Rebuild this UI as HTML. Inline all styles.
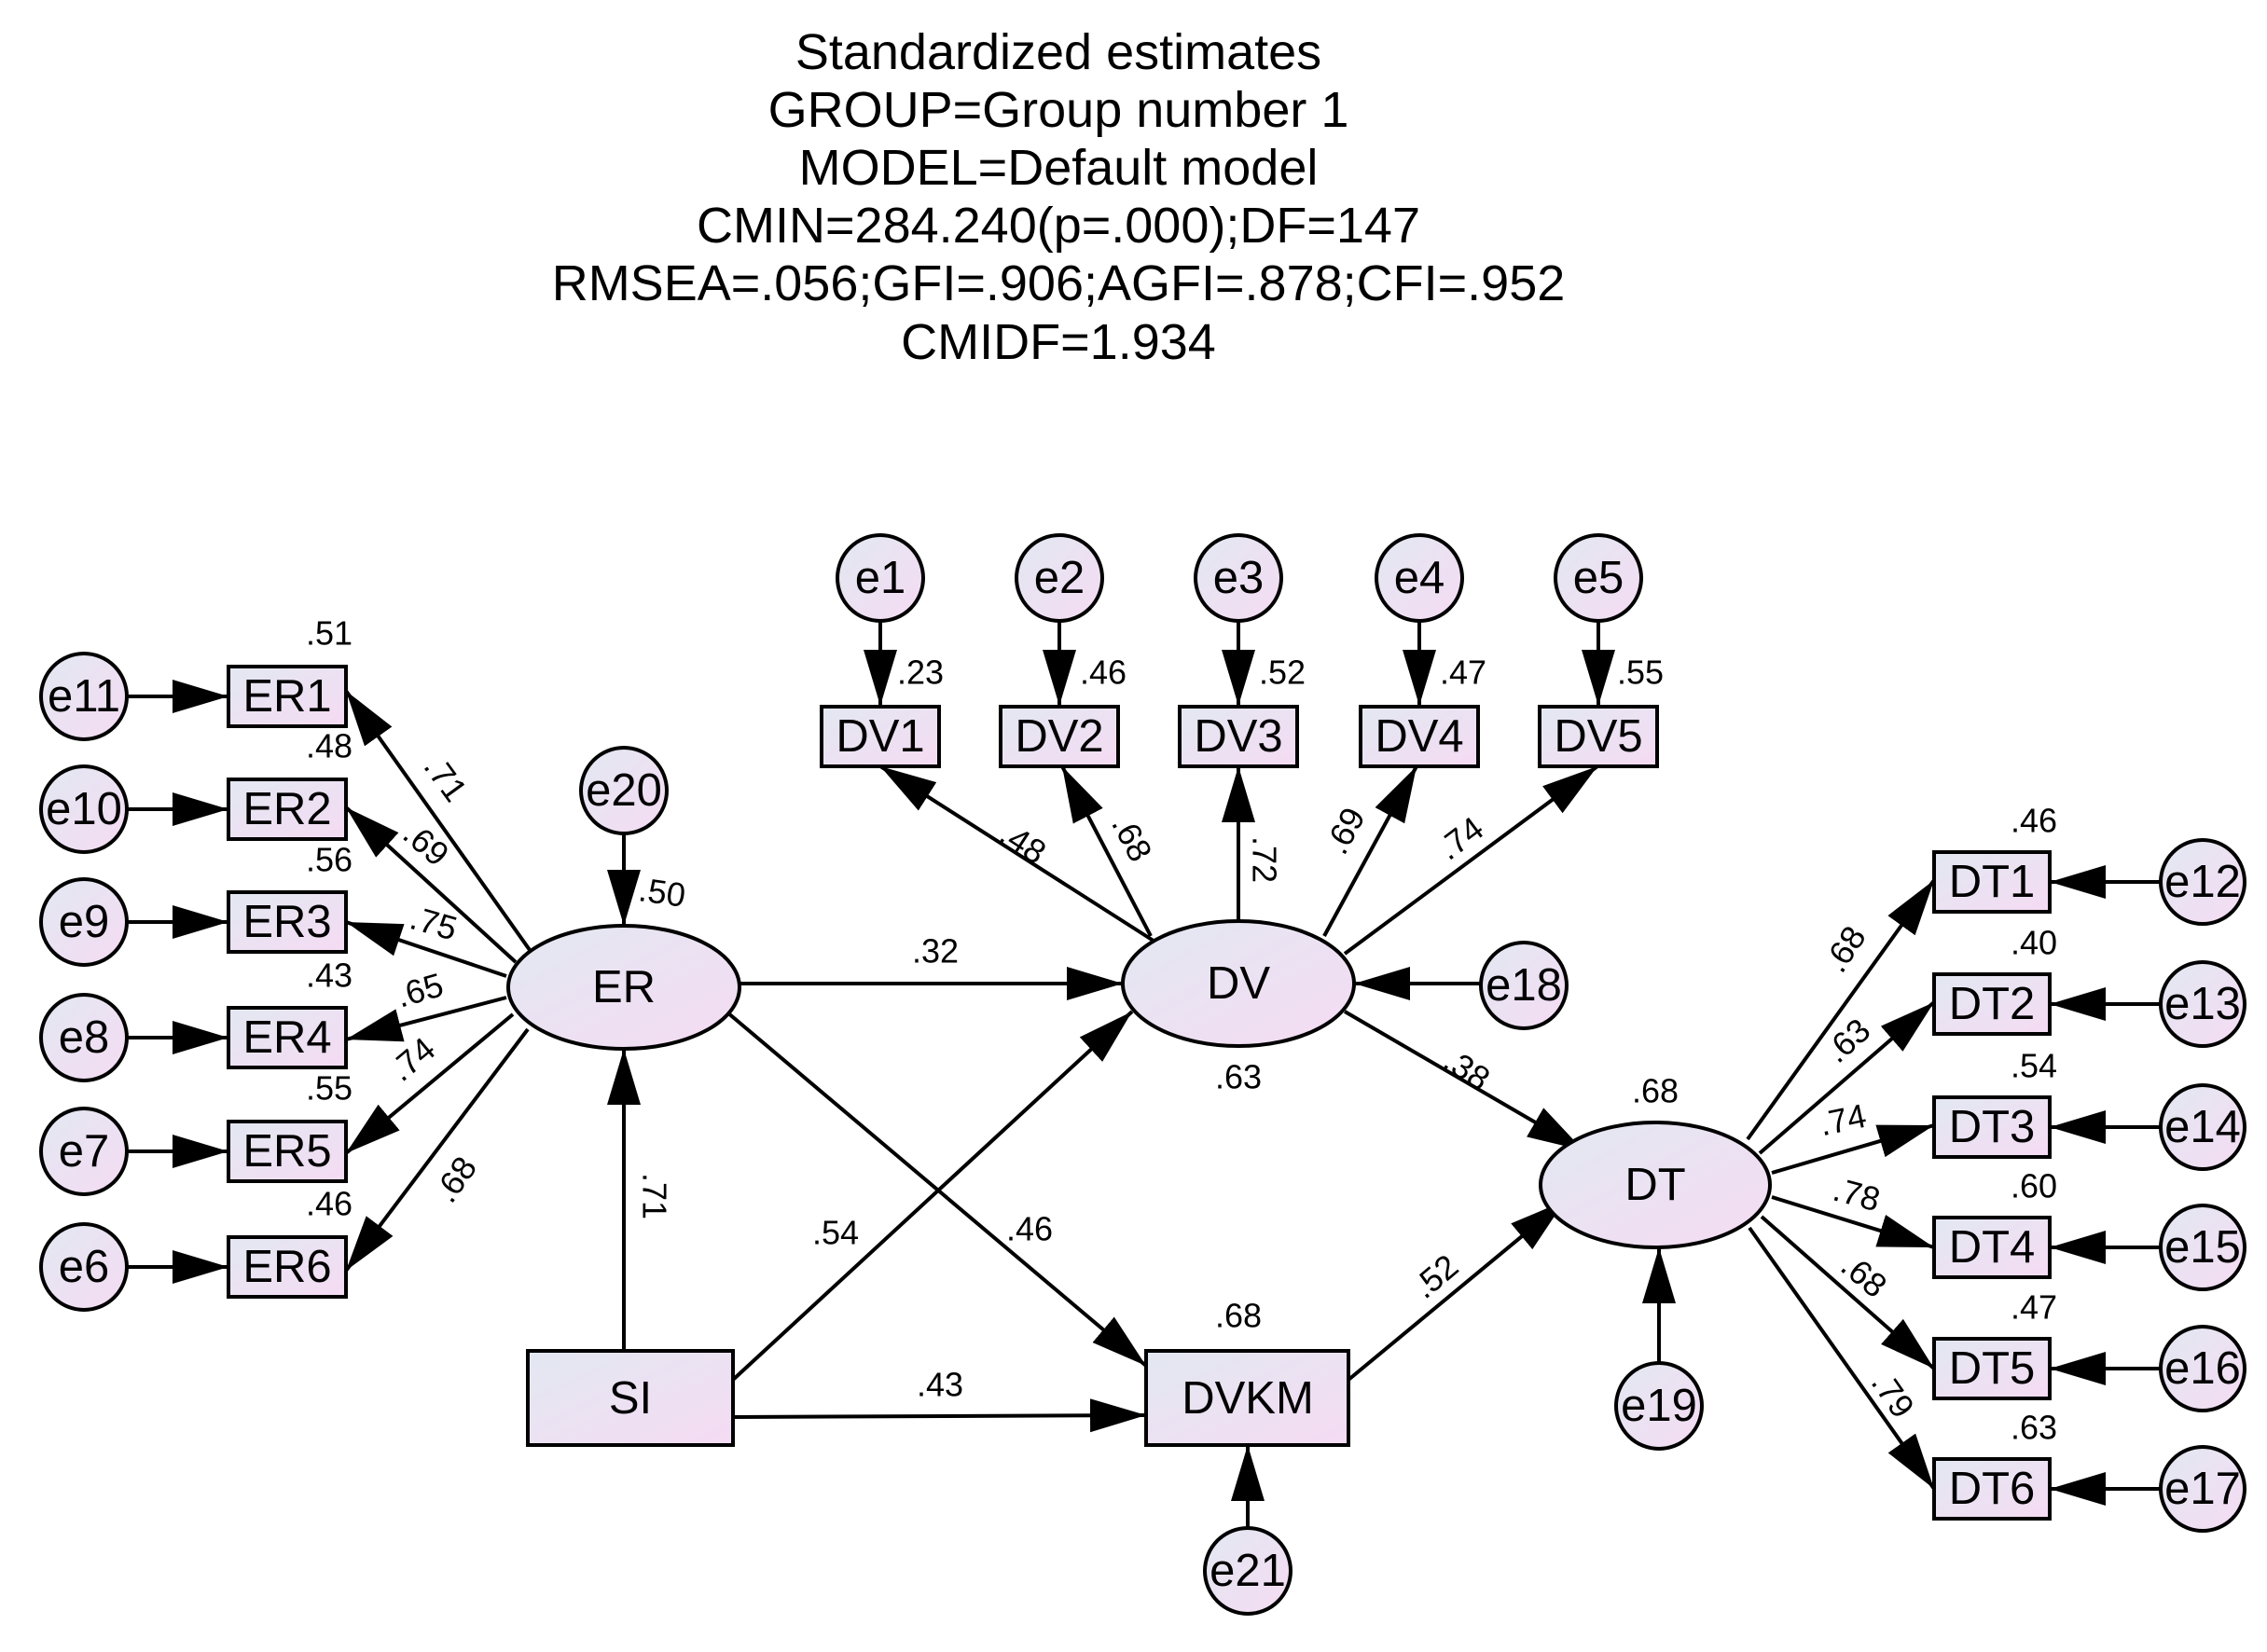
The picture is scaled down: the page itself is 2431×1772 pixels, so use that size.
<!DOCTYPE html>
<html><head><meta charset="utf-8"><style>
html,body{margin:0;padding:0;background:#fff}
svg{display:block}
text{font-family:"Liberation Sans",Arial,sans-serif;fill:#000}
.t{font-size:54px}
.n{font-size:49px}
.s{font-size:36px}
</style></head><body>
<svg width="2431" height="1772" viewBox="0 0 2431 1772" xmlns="http://www.w3.org/2000/svg">
<defs>
<linearGradient id="g" x1="0" y1="0" x2="1" y2="1">
<stop offset="0" stop-color="#e2e8f2"/><stop offset="1" stop-color="#f5dbf3"/>
</linearGradient>
<marker id="a" markerUnits="userSpaceOnUse" markerWidth="62" markerHeight="40" refX="60" refY="18" orient="auto">
<path d="M0,0 L60,18 L0,36 Z" fill="#000"/>
</marker>
</defs>

<g text-anchor="middle" class="t">
<text x="1135" y="74">Standardized estimates</text>
<text x="1135" y="136">GROUP=Group number 1</text>
<text x="1135" y="198">MODEL=Default model</text>
<text x="1135" y="260">CMIN=284.240(p=.000);DF=147</text>
<text x="1135" y="322">RMSEA=.056;GFI=.906;AGFI=.878;CFI=.952</text>
<text x="1135" y="385">CMIDF=1.934</text>
</g>

<g stroke="#000" stroke-width="4" fill="none" marker-end="url(#a)">
<line x1="136" y1="747" x2="245" y2="747"/>
<line x1="136" y1="868" x2="245" y2="868"/>
<line x1="136" y1="989" x2="245" y2="989"/>
<line x1="136" y1="1113" x2="245" y2="1113"/>
<line x1="136" y1="1235" x2="245" y2="1235"/>
<line x1="136" y1="1359" x2="245" y2="1359"/>
<line x1="568" y1="1019" x2="371" y2="741"/>
<line x1="553" y1="1032" x2="371" y2="866"/>
<line x1="543" y1="1047" x2="371" y2="989"/>
<line x1="543" y1="1070" x2="371" y2="1115"/>
<line x1="550" y1="1088" x2="371" y2="1237"/>
<line x1="566" y1="1104" x2="371" y2="1363"/>
<line x1="669" y1="894" x2="669" y2="993"/>
<line x1="669" y1="1449" x2="669" y2="1125"/>
<line x1="793" y1="1055" x2="1204" y2="1055"/>
<line x1="780" y1="1086" x2="1229" y2="1465"/>
<line x1="786" y1="1480" x2="1214" y2="1085"/>
<line x1="786" y1="1520" x2="1229" y2="1518"/>
<line x1="944" y1="666" x2="944" y2="757"/>
<line x1="1136" y1="666" x2="1136" y2="757"/>
<line x1="1328" y1="666" x2="1328" y2="757"/>
<line x1="1522" y1="666" x2="1522" y2="757"/>
<line x1="1714" y1="666" x2="1714" y2="757"/>
<line x1="1240" y1="1011" x2="944" y2="822"/>
<line x1="1234" y1="1004" x2="1139" y2="822"/>
<line x1="1328" y1="988" x2="1328" y2="822"/>
<line x1="1420" y1="1004" x2="1519" y2="822"/>
<line x1="1442" y1="1023" x2="1713" y2="822"/>
<line x1="1588" y1="1055" x2="1452" y2="1055"/>
<line x1="1442" y1="1085" x2="1698" y2="1234"/>
<line x1="1446" y1="1480" x2="1678" y2="1288"/>
<line x1="1338" y1="1639" x2="1338" y2="1550"/>
<line x1="1779" y1="1462" x2="1779" y2="1338"/>
<line x1="1874" y1="1222" x2="2074" y2="944"/>
<line x1="1887" y1="1237" x2="2074" y2="1075"/>
<line x1="1900" y1="1258" x2="2074" y2="1207"/>
<line x1="1900" y1="1284" x2="2074" y2="1338"/>
<line x1="1889" y1="1305" x2="2074" y2="1468"/>
<line x1="1876" y1="1317" x2="2074" y2="1597"/>
<line x1="2317" y1="946" x2="2198" y2="946"/>
<line x1="2317" y1="1077" x2="2198" y2="1077"/>
<line x1="2317" y1="1209" x2="2198" y2="1209"/>
<line x1="2317" y1="1338" x2="2198" y2="1338"/>
<line x1="2317" y1="1468" x2="2198" y2="1468"/>
<line x1="2317" y1="1597" x2="2198" y2="1597"/>
</g>

<g fill="url(#g)" stroke="#000" stroke-width="4">
<circle cx="90" cy="747" r="46"/><circle cx="90" cy="868" r="46"/><circle cx="90" cy="989" r="46"/>
<circle cx="90" cy="1113" r="46"/><circle cx="90" cy="1235" r="46"/><circle cx="90" cy="1359" r="46"/>
<rect x="245" y="715" width="126" height="64"/><rect x="245" y="836" width="126" height="64"/>
<rect x="245" y="957" width="126" height="64"/><rect x="245" y="1081" width="126" height="64"/>
<rect x="245" y="1203" width="126" height="64"/><rect x="245" y="1327" width="126" height="64"/>
<circle cx="669" cy="848" r="46"/>
<ellipse cx="669" cy="1059" rx="124" ry="66"/>
<rect x="566" y="1449" width="220" height="101"/>
<circle cx="944" cy="620" r="46"/><circle cx="1136" cy="620" r="46"/><circle cx="1328" cy="620" r="46"/>
<circle cx="1522" cy="620" r="46"/><circle cx="1714" cy="620" r="46"/>
<rect x="881" y="758" width="126" height="64"/><rect x="1073" y="758" width="126" height="64"/>
<rect x="1265" y="758" width="126" height="64"/><rect x="1459" y="758" width="126" height="64"/>
<rect x="1651" y="758" width="126" height="64"/>
<ellipse cx="1328" cy="1055" rx="124" ry="67"/>
<circle cx="1634" cy="1057" r="46"/>
<rect x="1229" y="1449" width="217" height="101"/>
<circle cx="1338" cy="1685" r="46"/>
<ellipse cx="1775" cy="1271" rx="123" ry="67"/>
<circle cx="1779" cy="1508" r="46"/>
<rect x="2074" y="914" width="124" height="64"/><rect x="2074" y="1045" width="124" height="64"/>
<rect x="2074" y="1177" width="124" height="64"/><rect x="2074" y="1306" width="124" height="64"/>
<rect x="2074" y="1436" width="124" height="64"/><rect x="2074" y="1565" width="124" height="64"/>
<circle cx="2362" cy="946" r="45"/><circle cx="2362" cy="1077" r="45"/><circle cx="2362" cy="1209" r="45"/>
<circle cx="2362" cy="1338" r="45"/><circle cx="2362" cy="1468" r="45"/><circle cx="2362" cy="1597" r="45"/>
</g>

<g class="n" text-anchor="middle" dominant-baseline="central">
<text x="90" y="747">e11</text><text x="90" y="868">e10</text><text x="90" y="989">e9</text>
<text x="90" y="1113">e8</text><text x="90" y="1235">e7</text><text x="90" y="1359">e6</text>
<text x="308" y="747">ER1</text><text x="308" y="868">ER2</text><text x="308" y="989">ER3</text>
<text x="308" y="1113">ER4</text><text x="308" y="1235">ER5</text><text x="308" y="1359">ER6</text>
<text x="669" y="848">e20</text>
<text x="669" y="1059">ER</text>
<text x="676" y="1500">SI</text>
<text x="944" y="620">e1</text><text x="1136" y="620">e2</text><text x="1328" y="620">e3</text>
<text x="1522" y="620">e4</text><text x="1714" y="620">e5</text>
<text x="944" y="790">DV1</text><text x="1136" y="790">DV2</text><text x="1328" y="790">DV3</text>
<text x="1522" y="790">DV4</text><text x="1714" y="790">DV5</text>
<text x="1328" y="1055">DV</text>
<text x="1634" y="1057">e18</text>
<text x="1338" y="1500">DVKM</text>
<text x="1338" y="1685">e21</text>
<text x="1775" y="1271">DT</text>
<text x="1779" y="1508">e19</text>
<text x="2136" y="946">DT1</text><text x="2136" y="1077">DT2</text><text x="2136" y="1209">DT3</text>
<text x="2136" y="1338">DT4</text><text x="2136" y="1468">DT5</text><text x="2136" y="1597">DT6</text>
<text x="2362" y="946">e12</text><text x="2362" y="1077">e13</text><text x="2362" y="1209">e14</text>
<text x="2362" y="1338">e15</text><text x="2362" y="1468">e16</text><text x="2362" y="1597">e17</text>
</g>

<g class="s" text-anchor="middle" dominant-baseline="central">
<text x="353" y="679">.51</text><text x="353" y="800">.48</text><text x="353" y="922">.56</text>
<text x="353" y="1046">.43</text><text x="353" y="1167">.55</text><text x="353" y="1291">.46</text>
<text x="710" y="957" transform="rotate(8 710 957)">.50</text>
<text x="987" y="721">.23</text><text x="1183" y="721">.46</text><text x="1375" y="721">.52</text>
<text x="1569" y="721">.47</text><text x="1759" y="721">.55</text>
<text x="1328" y="1155">.63</text>
<text x="1328" y="1411">.68</text>
<text x="1775" y="1170">.68</text>
<text x="2181" y="880">.46</text><text x="2181" y="1011">.40</text><text x="2181" y="1143">.54</text>
<text x="2181" y="1272">.60</text><text x="2181" y="1402">.47</text><text x="2181" y="1531">.63</text>
<text x="478" y="835" transform="rotate(54 478 835)">.71</text>
<text x="457" y="905" transform="rotate(41 457 905)">.69</text>
<text x="465" y="990" transform="rotate(16 465 990)">.75</text>
<text x="450" y="1062" transform="rotate(-16 450 1062)">.65</text>
<text x="442" y="1136" transform="rotate(-40 442 1136)">.74</text>
<text x="488" y="1265" transform="rotate(-55 488 1265)">.68</text>
<text x="1003" y="1020">.32</text>
<text x="1104" y="1318">.46</text>
<text x="702" y="1283" transform="rotate(90 702 1283)">.71</text>
<text x="896" y="1322">.54</text>
<text x="1008" y="1485">.43</text>
<text x="1097" y="904" transform="rotate(33 1097 904)">.48</text>
<text x="1214" y="899" transform="rotate(62 1214 899)">.68</text>
<text x="1356" y="922" transform="rotate(90 1356 922)">.72</text>
<text x="1442" y="891" transform="rotate(-62 1442 891)">.69</text>
<text x="1566" y="899" transform="rotate(-37 1566 899)">.74</text>
<text x="1573" y="1147" transform="rotate(33 1573 1147)">.38</text>
<text x="1539" y="1369" transform="rotate(-40 1539 1369)">.52</text>
<text x="1978" y="1018" transform="rotate(-57 1978 1018)">.68</text>
<text x="1981" y="1116" transform="rotate(-42 1981 1116)">.63</text>
<text x="1976" y="1201" transform="rotate(-12 1976 1201)">.74</text>
<text x="1991" y="1281" transform="rotate(15 1991 1281)">.78</text>
<text x="1999" y="1368" transform="rotate(40 1999 1368)">.68</text>
<text x="2030" y="1496" transform="rotate(55 2030 1496)">.79</text>
</g>
</svg>
</body></html>
